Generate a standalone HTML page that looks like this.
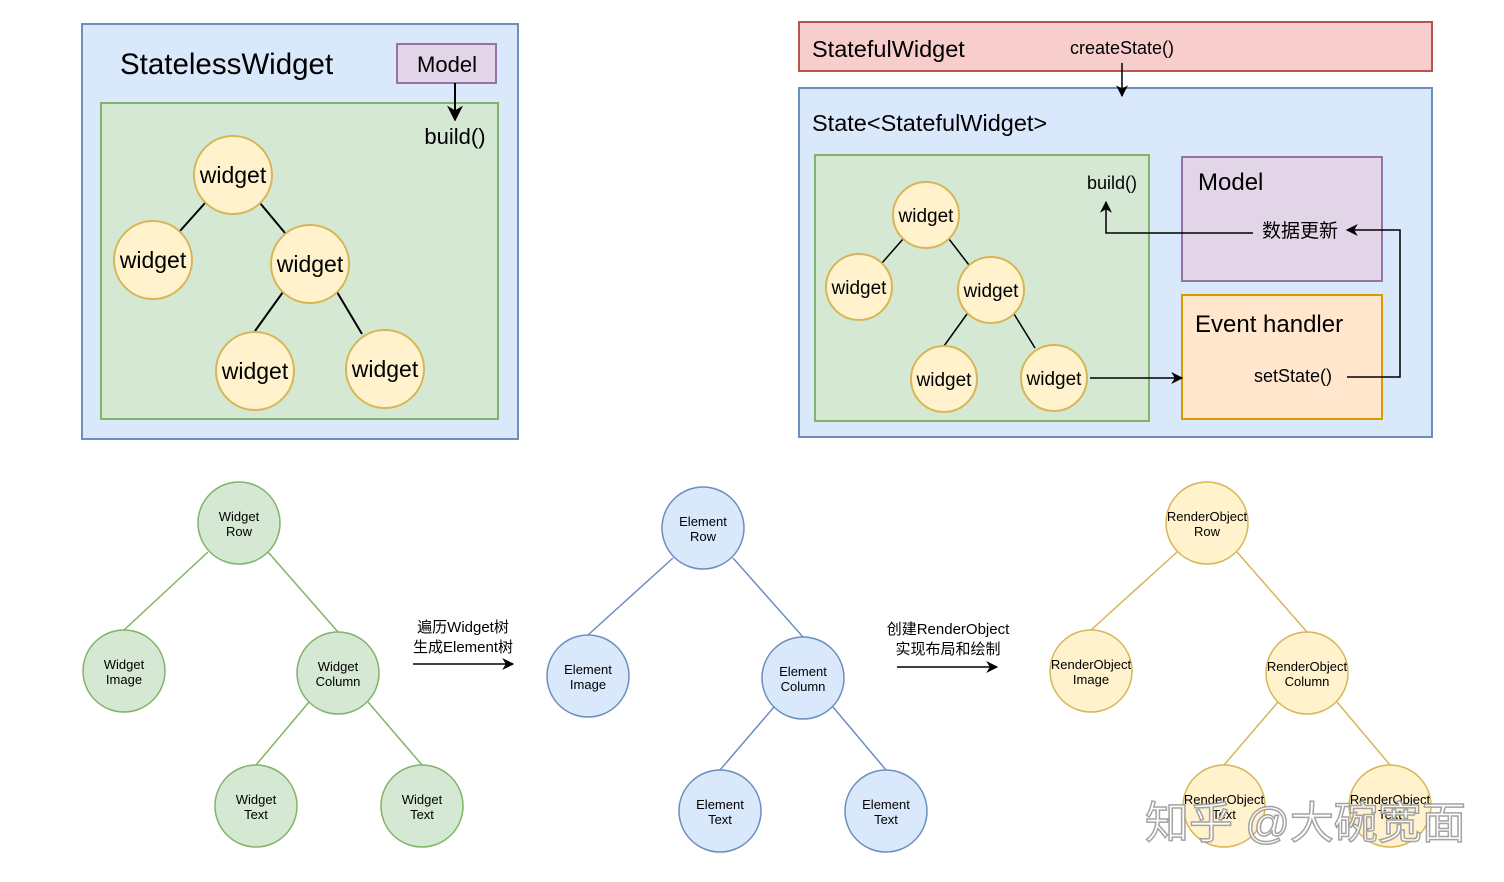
<!DOCTYPE html>
<html><head><meta charset="utf-8"><style>
html,body{margin:0;padding:0;background:#fff;}
svg{display:block;font-family:"Liberation Sans","Noto Sans CJK SC",sans-serif;}
</style></head><body>
<svg width="1504" height="882" viewBox="0 0 1504 882" xmlns="http://www.w3.org/2000/svg">
<defs>
<marker id="a" viewBox="0 0 10 10" refX="9" refY="5" markerWidth="8" markerHeight="8" orient="auto"><path d="M0,0 L10,5 L0,10 L3,5 z" fill="#000"/></marker>
</defs>
<!-- Stateless -->
<rect x="82" y="24" width="436" height="415" fill="#dae8fc" stroke="#6c8ebf" stroke-width="2"/>
<text x="120" y="74" font-size="29.5">StatelessWidget</text>
<rect x="101" y="103" width="397" height="316" fill="#d5e8d4" stroke="#82b366" stroke-width="2"/>
<rect x="397" y="44" width="99" height="39" fill="#e1d5e7" stroke="#9673a6" stroke-width="2"/>
<text x="447" y="72" font-size="22" text-anchor="middle">Model</text>
<line x1="455" y1="83" x2="455" y2="120" stroke="#000" stroke-width="2" marker-end="url(#a)"/>
<text x="455" y="144" font-size="22" text-anchor="middle">build()</text>
<g stroke="#000" stroke-width="2">
<line x1="205" y1="203" x2="180" y2="231"/><line x1="260" y1="203" x2="285" y2="233"/>
<line x1="283" y1="292" x2="255" y2="331"/><line x1="337" y1="292" x2="362" y2="334"/>
</g>
<g fill="#fff2cc" stroke="#d6b656" stroke-width="2">
<circle cx="233" cy="175" r="39"/><circle cx="153" cy="260" r="39"/><circle cx="310" cy="264" r="39"/><circle cx="255" cy="371" r="39"/><circle cx="385" cy="369" r="39"/>
</g>
<g font-size="23" text-anchor="middle">
<text x="233" y="183">widget</text><text x="153" y="268">widget</text><text x="310" y="272">widget</text><text x="255" y="379">widget</text><text x="385" y="377">widget</text>
</g>
<!-- Stateful -->
<rect x="799" y="22" width="633" height="49" fill="#f8cecc" stroke="#b85450" stroke-width="2"/>
<text x="812" y="57" font-size="23.5">StatefulWidget</text>
<text x="1122" y="54" font-size="18" text-anchor="middle">createState()</text>
<rect x="799" y="88" width="633" height="349" fill="#dae8fc" stroke="#6c8ebf" stroke-width="2"/>
<line x1="1122" y1="63" x2="1122" y2="96" stroke="#000" stroke-width="1.5" marker-end="url(#a)"/>
<text x="812" y="131" font-size="23.5">State&lt;StatefulWidget&gt;</text>
<rect x="815" y="155" width="334" height="266" fill="#d5e8d4" stroke="#82b366" stroke-width="2"/>
<rect x="1182" y="157" width="200" height="124" fill="#e1d5e7" stroke="#9673a6" stroke-width="2"/>
<text x="1198" y="190" font-size="24">Model</text>
<rect x="1182" y="295" width="200" height="124" fill="#ffe6cc" stroke="#d79b00" stroke-width="2"/>
<text x="1195" y="332" font-size="24">Event handler</text>
<text x="1112" y="189" font-size="18" text-anchor="middle">build()</text>
<text x="1300" y="237" font-size="19" text-anchor="middle">数据更新</text>
<text x="1293" y="382" font-size="18" text-anchor="middle">setState()</text>
<polyline points="1253,233 1106,233 1106,202" fill="none" stroke="#000" stroke-width="1.5" marker-end="url(#a)"/>
<polyline points="1347,377 1400,377 1400,230 1347,230" fill="none" stroke="#000" stroke-width="1.5" marker-end="url(#a)"/>
<line x1="1090" y1="378" x2="1182" y2="378" stroke="#000" stroke-width="1.5" marker-end="url(#a)"/>
<g stroke="#000" stroke-width="1.5">
<line x1="903" y1="239" x2="882" y2="263"/><line x1="949" y1="239" x2="969" y2="265"/>
<line x1="967" y1="314" x2="944" y2="346"/><line x1="1014" y1="314" x2="1035" y2="348"/>
</g>
<g fill="#fff2cc" stroke="#d6b656" stroke-width="2">
<circle cx="926" cy="215" r="33"/><circle cx="859" cy="287" r="33"/><circle cx="991" cy="290" r="33"/><circle cx="944" cy="379" r="33"/><circle cx="1054" cy="378" r="33"/>
</g>
<g font-size="19" text-anchor="middle">
<text x="926" y="222">widget</text><text x="859" y="294">widget</text><text x="991" y="297">widget</text><text x="944" y="386">widget</text><text x="1054" y="385">widget</text>
</g>
<!-- bottom trees -->
<g stroke="#82b366" stroke-width="1.5">
<line x1="208" y1="552" x2="124" y2="630"/><line x1="268" y1="552" x2="338" y2="632"/>
<line x1="309" y1="702" x2="256" y2="765"/><line x1="368" y1="702" x2="422" y2="765"/>
</g>
<g fill="#d5e8d4" stroke="#82b366" stroke-width="1.5">
<circle cx="239" cy="523" r="41"/><circle cx="124" cy="671" r="41"/><circle cx="338" cy="673" r="41"/><circle cx="256" cy="806" r="41"/><circle cx="422" cy="806" r="41"/>
</g>
<g stroke="#6c8ebf" stroke-width="1.5">
<line x1="673" y1="558" x2="588" y2="635"/><line x1="733" y1="558" x2="803" y2="637"/>
<line x1="774" y1="707" x2="720" y2="770"/><line x1="833" y1="707" x2="886" y2="770"/>
</g>
<g fill="#dae8fc" stroke="#6c8ebf" stroke-width="1.5">
<circle cx="703" cy="528" r="41"/><circle cx="588" cy="676" r="41"/><circle cx="803" cy="678" r="41"/><circle cx="720" cy="811" r="41"/><circle cx="886" cy="811" r="41"/>
</g>
<g stroke="#d6b656" stroke-width="1.5">
<line x1="1177" y1="552" x2="1091" y2="630"/><line x1="1237" y1="552" x2="1307" y2="632"/>
<line x1="1278" y1="702" x2="1224" y2="765"/><line x1="1337" y1="702" x2="1390" y2="765"/>
</g>
<g fill="#fff2cc" stroke="#d6b656" stroke-width="1.5">
<circle cx="1207" cy="523" r="41"/><circle cx="1091" cy="671" r="41"/><circle cx="1307" cy="673" r="41"/><circle cx="1224" cy="806" r="41"/><circle cx="1390" cy="806" r="41"/>
</g>
<g font-size="13" text-anchor="middle">
<text x="239" y="521">Widget</text><text x="239" y="536">Row</text>
<text x="124" y="669">Widget</text><text x="124" y="684">Image</text>
<text x="338" y="671">Widget</text><text x="338" y="686">Column</text>
<text x="256" y="804">Widget</text><text x="256" y="819">Text</text>
<text x="422" y="804">Widget</text><text x="422" y="819">Text</text>
<text x="703" y="526">Element</text><text x="703" y="541">Row</text>
<text x="588" y="674">Element</text><text x="588" y="689">Image</text>
<text x="803" y="676">Element</text><text x="803" y="691">Column</text>
<text x="720" y="809">Element</text><text x="720" y="824">Text</text>
<text x="886" y="809">Element</text><text x="886" y="824">Text</text>
<text x="1207" y="521">RenderObject</text><text x="1207" y="536">Row</text>
<text x="1091" y="669">RenderObject</text><text x="1091" y="684">Image</text>
<text x="1307" y="671">RenderObject</text><text x="1307" y="686">Column</text>
<text x="1224" y="804">RenderObject</text><text x="1224" y="819">Text</text>
<text x="1390" y="804">RenderObject</text><text x="1390" y="819">Text</text>
</g>
<g font-size="15" text-anchor="middle">
<text x="463" y="632">遍历Widget树</text><text x="463" y="652">生成Element树</text>
<text x="948" y="634">创建RenderObject</text><text x="948" y="654">实现布局和绘制</text>
</g>
<line x1="413" y1="664" x2="513" y2="664" stroke="#000" stroke-width="1.5" marker-end="url(#a)"/>
<line x1="897" y1="667" x2="997" y2="667" stroke="#000" stroke-width="1.5" marker-end="url(#a)"/>
<text x="1145" y="838" font-size="44" fill="#fff" stroke="#9a9a9a" stroke-width="1.5" opacity="0.9">知乎 @大碗宽面</text>
</svg>
</body></html>
